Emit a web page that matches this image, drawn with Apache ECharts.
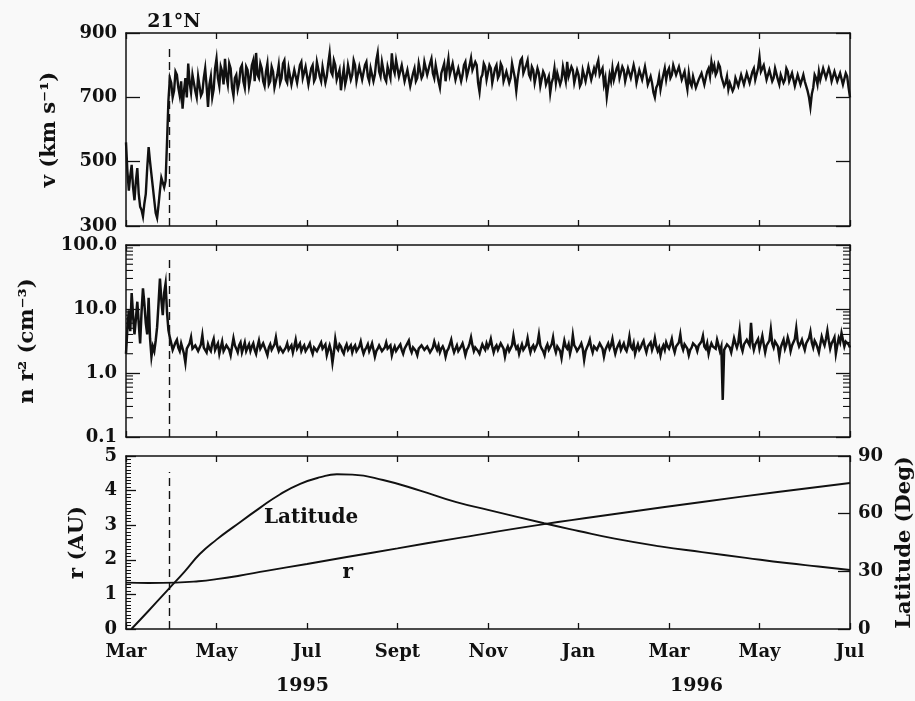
<!DOCTYPE html>
<html><head><meta charset="utf-8">
<script src="https://cdn.jsdelivr.net/npm/echarts@6/dist/echarts.min.js"></script>
<style>html,body{margin:0;padding:0;background:#f9f9f9}#c{width:915px;height:701px}</style>
</head><body><div id="c"></div><script>
// x axis: months since 1 March 1995
const monthTickLabels = ['Mar','May','Jul','Sept','Nov','Jan','Mar','May','Jul'];
const yearLabels = ['1995','1996'];
const sampleStepMonths = 1/32;

// solar wind speed v (km/s), one sample every 1/32 month
const speed = [
 560,470,410,455,490,420,380,440,480,400,360,350,330,370,400,480,545,500,460,420,380,340,325,365,410,450,445,420,440,560,690,760,
 745,700,720,780,770,730,705,750,665,720,760,700,805,745,715,770,775,720,700,765,760,705,715,760,790,735,670,740,765,700,725,790,
 820,760,735,795,780,740,820,765,740,805,790,730,705,760,770,725,745,790,800,750,730,795,785,735,760,800,815,750,838,770,760,805,
 790,750,735,780,805,740,750,795,780,730,725,770,800,745,760,805,815,755,745,790,790,740,735,785,785,745,750,800,810,760,765,795,
 795,740,745,790,800,750,760,810,815,765,750,795,790,745,765,805,837,780,770,815,800,755,750,785,722,760,790,740,760,800,805,755,
 770,815,800,750,745,795,790,755,760,800,810,765,750,790,795,750,770,815,838,780,765,810,805,760,750,795,790,760,837,790,775,815,
 810,765,760,800,795,750,745,785,780,735,740,775,790,750,760,805,800,760,770,810,815,770,775,805,820,775,760,800,795,750,730,775,
 780,805,750,790,820,770,765,805,800,755,755,790,790,750,770,800,810,765,760,800,822,785,780,810,800,745,717,760,770,805,795,755,
 760,800,790,745,750,790,800,760,770,805,795,750,745,780,785,745,760,805,800,760,720,760,790,815,822,775,770,800,815,770,760,795,
 785,745,750,790,775,735,740,780,770,740,735,765,713,745,760,790,745,775,780,740,755,795,790,750,810,765,760,795,785,745,750,785,
 770,735,745,785,780,750,755,795,790,755,760,790,775,800,815,770,765,790,740,760,701,735,770,750,790,755,750,790,800,760,760,795,
 785,750,755,790,795,760,765,800,780,745,750,785,790,755,760,795,770,740,735,765,745,715,700,730,740,765,725,750,770,790,755,780,
 790,760,770,800,800,770,765,795,790,755,760,780,750,725,775,745,735,765,760,730,730,755,750,775,770,740,745,780,790,765,810,785,
 800,770,780,805,795,765,760,735,745,765,725,745,750,720,730,760,760,735,740,770,765,740,745,775,770,745,750,780,790,755,760,790,
 825,780,775,800,795,755,750,785,785,750,760,790,790,755,740,770,775,745,755,790,780,750,745,775,770,735,740,770,765,740,745,770,
 750,735,720,700,670,710,730,770,760,740,780,755,750,790,790,760,765,790,775,750,755,780,785,750,750,775,770,740,745,775,765,730,
 700
];

// scaled density n r^2 (cm^-3), same sampling
const densityR2 = [
 2.0,5.0,9.5,4.5,17.8,8.0,4.0,7.0,13,6.0,2.9,9.0,21,12,6.0,4.0,15,3.5,1.8,2.6,2.2,3.2,5.2,12,30,14,8.0,18,25,9.0,4.7,3.6,
 2.9,2.3,2.4,3.0,3.3,2.5,2.2,2.9,2.7,2.0,1.45,2.4,2.5,2.9,3.6,2.4,2.3,2.7,2.9,2.2,2.1,2.8,3.9,2.5,2.4,2.1,2.8,2.4,2.2,2.9,3.4,2.3,
 2.6,2.9,2.0,2.5,3.1,2.2,2.3,2.7,2.8,2.3,1.9,2.6,3.5,2.7,2.4,2.1,2.7,3.0,2.1,2.5,3.0,2.2,2.5,2.8,2.2,2.6,2.9,2.3,2.0,2.6,3.2,2.4,
 2.4,2.9,2.7,2.2,1.9,2.5,2.8,2.3,2.3,2.8,3.6,2.6,2.2,2.5,2.6,2.1,2.0,2.5,2.9,2.3,2.4,2.7,2.1,2.6,3.3,2.4,2.5,2.9,2.2,2.5,2.7,2.2,
 2.3,2.6,2.9,2.3,2.0,2.5,2.6,2.2,2.2,2.7,3.0,2.4,2.4,2.8,1.9,2.3,2.7,2.2,1.45,2.1,3.4,2.5,2.3,2.8,2.6,2.2,2.0,2.5,2.8,2.3,2.4,2.7,
 2.1,2.5,2.7,2.2,2.3,2.6,3.1,2.4,2.0,2.3,2.5,2.8,2.2,2.5,2.9,2.3,1.8,2.2,2.4,2.7,2.6,2.2,2.1,2.5,3.0,2.4,2.3,2.7,1.9,2.3,2.6,2.2,
 2.2,2.6,2.8,2.3,2.0,2.4,2.5,2.9,3.2,2.4,2.1,2.5,2.6,2.2,1.9,2.4,2.4,2.7,2.9,2.3,2.2,2.6,2.5,2.1,2.0,2.5,3.1,2.6,2.3,2.7,2.1,2.4,
 2.6,2.3,1.8,2.2,2.4,2.8,3.3,2.5,2.1,2.4,2.7,2.2,2.2,2.6,2.9,2.4,1.9,2.3,2.5,2.9,3.6,2.7,2.2,2.5,2.6,2.2,2.0,2.4,2.8,2.5,2.3,2.9,
 2.5,2.8,3.4,2.6,2.1,2.5,2.7,2.3,2.3,2.9,3.0,2.4,1.8,2.3,2.6,2.2,2.2,2.7,3.8,2.8,2.4,2.6,2.0,2.4,2.8,2.3,2.3,2.7,3.5,2.6,2.1,2.5,
 2.7,2.3,2.2,2.9,4.0,2.7,2.4,2.2,1.9,2.5,2.8,2.3,2.3,2.8,3.6,2.5,2.1,2.6,2.6,2.2,1.7,2.4,3.2,2.6,2.4,2.8,2.0,2.5,3.9,2.7,2.5,2.2,
 2.2,2.6,2.9,2.4,1.6,2.2,2.5,2.8,3.3,2.5,2.1,2.6,2.7,2.3,2.3,2.9,3.1,2.4,1.8,2.3,2.6,2.9,2.4,2.7,3.4,2.5,2.0,2.4,2.7,3.0,2.3,2.6,
 2.9,2.4,2.2,2.7,3.7,2.6,2.4,2.9,2.0,2.4,2.8,2.3,2.5,2.9,3.2,2.5,2.1,2.6,2.6,3.0,2.3,2.7,3.5,2.6,2.2,2.5,1.9,2.4,2.7,2.3,3.0,2.6,
 2.4,2.8,3.4,2.5,2.1,2.6,2.6,3.0,4.0,2.7,2.3,2.8,2.8,2.4,1.9,2.3,2.5,2.9,3.1,2.6,2.2,2.7,2.7,3.1,3.8,2.6,2.4,2.9,2.0,2.5,2.9,2.6,
 2.6,2.4,3.3,2.7,2.2,2.6,0.38,2.3,2.4,2.8,2.9,2.5,2.1,2.7,3.5,2.9,2.5,3.0,4.6,2.6,2.2,2.8,2.8,3.3,3.2,2.7,6.1,3.0,2.3,2.8,2.9,3.4,
 2.4,3.0,3.8,2.8,2.1,2.7,2.7,3.2,4.8,2.9,2.5,3.1,3.1,2.6,1.8,2.5,2.9,3.3,2.4,2.8,3.6,3.0,2.2,2.7,2.8,3.4,5.0,3.1,2.6,2.9,3.3,2.7,
 2.3,2.9,3.0,3.5,4.4,3.0,2.5,3.2,2.9,2.5,2.1,2.8,3.7,3.1,2.7,3.4,4.6,3.2,2.4,2.9,3.2,3.6,2.0,2.7,3.5,3.0,4.2,3.3,2.6,3.1,3.1,2.8,
 2.5
];

// heliographic latitude (deg)
const latitudeMonths = [0.12,0.5,0.95,1.3,1.63,2.0,2.37,2.96,3.4,3.85,4.3,4.66,5.0,5.68,6.5,7.3,8.0,9.24,10.0,10.8,11.8,12.73,13.7,14.6,15.3,16];
const latitudeDeg    = [0,9.5,21,30,39,46.5,53,63,70,75.5,79,80.5,80.3,77.5,72,66,62,55,51,47,43,40,37,34.3,32.5,30.7];
// heliocentric distance r (AU)
const radiusMonths = [0,0.5,1.1,1.6,2.0,2.5,3.1,4.0,4.88,6.0,7.3,9.24,11.0,12.73,14.4,16];
const radiusAU     = [1.34,1.33,1.34,1.38,1.44,1.54,1.68,1.88,2.08,2.33,2.62,3.03,3.36,3.67,3.96,4.22];

const crossingMonth = 0.95;
const crossingLabel = '21°N';
const logMinorTicks = [0.2,0.3,0.4,0.5,0.6,0.7,0.8,0.9,2,3,4,5,6,7,8,9,20,30,40,50,60,70,80,90];

const F = 'DejaVu Serif';
const INK = '#111';
const chart = echarts.init(document.getElementById('c'));
const lineAxis = {onZero:false, lineStyle:{color:INK,width:1.5}};
const grids = [
  {left:126, right:65, top:33, height:193, outerBoundsMode:'none'},
  {left:126, right:65, top:245, height:192, outerBoundsMode:'none'},
  {left:126, right:65, top:456, height:173, outerBoundsMode:'none'}
];
function xAx(g, pos, labels){
  return {type:'value', gridIndex:g, position:pos, min:0, max:16, interval:2,
    axisLine:lineAxis, splitLine:{show:false},
    axisTick:{show:true, inside:true, length:6, lineStyle:{color:INK,width:1.3}},
    axisLabel:{show:labels, margin:14, color:INK, fontFamily:F, fontSize:18, fontWeight:'bold',
      formatter:v=>monthTickLabels[Math.round(v/2)]}};
}
function yTick(len){return {show:true, inside:true, length:len, lineStyle:{color:INK,width:1.3}};}
const lbl = {color:INK, fontFamily:F, fontSize:18, fontWeight:'bold'};
const nameStyle = {color:INK, fontFamily:F, fontSize:21, fontWeight:'bold'};

const dashStyle = {type:[8,5], color:INK, width:1.4};

const option = {
  backgroundColor:'#f9f9f9',
  animation:false,
  grid:grids,
  xAxis:[xAx(0,'bottom',false), xAx(0,'top',false), xAx(1,'bottom',false), xAx(1,'top',false), xAx(2,'bottom',true), xAx(2,'top',false)],
  yAxis:[
    {type:'value', gridIndex:0, position:'left', min:300, max:900, interval:200, axisLine:lineAxis, splitLine:{show:false},
     axisTick:yTick(14), axisLabel:Object.assign({margin:9},lbl),
     name:'v (km s⁻¹)', nameLocation:'middle', nameGap:66, nameTextStyle:nameStyle},
    {type:'value', gridIndex:0, position:'right', min:300, max:900, interval:200, axisLine:lineAxis, splitLine:{show:false},
     axisTick:yTick(14), axisLabel:{show:false}},
    {type:'log', gridIndex:1, position:'left', min:0.1, max:100, logBase:10, axisLine:lineAxis, splitLine:{show:false},
     axisTick:yTick(14), axisLabel:Object.assign({margin:9, formatter:v=>Number(v).toFixed(1)},lbl),
     name:'n r² (cm⁻³)', nameLocation:'middle', nameGap:88, nameTextStyle:nameStyle},
    {type:'log', gridIndex:1, position:'right', min:0.1, max:100, logBase:10, axisLine:lineAxis, splitLine:{show:false},
     axisTick:yTick(14), axisLabel:{show:false}},
    {type:'value', gridIndex:2, position:'left', min:0, max:5, interval:1, axisLine:lineAxis, splitLine:{show:false},
     axisTick:yTick(10), minorTick:{show:true, splitNumber:10, length:5, lineStyle:{color:INK,width:1}},
     axisLabel:Object.assign({margin:9},lbl),
     name:'r (AU)', nameLocation:'middle', nameGap:38, nameTextStyle:nameStyle},
    {type:'value', gridIndex:2, position:'right', min:0, max:90, interval:30, axisLine:lineAxis, splitLine:{show:false},
     axisTick:yTick(12), axisLabel:Object.assign({margin:8},lbl),
     name:'Latitude (Deg)', nameLocation:'middle', nameGap:44, nameRotate:90, nameTextStyle:nameStyle}
  ],
  series:[
    {type:'line', xAxisIndex:0, yAxisIndex:0, showSymbol:false, silent:true,
     lineStyle:{color:INK, width:2.4, join:'miter'},
     data:speed.map((v,i)=>[i*sampleStepMonths, v]),
     markLine:{silent:true, symbol:'none', lineStyle:dashStyle,
       label:{show:true, position:'end', distance:14, formatter:crossingLabel, color:INK, fontFamily:F, fontSize:19, fontWeight:'bold', padding:[0,0,0,10]},
       data:[[{coord:[crossingMonth,300]},{coord:[crossingMonth,862]}]]}},
    {type:'line', xAxisIndex:2, yAxisIndex:2, showSymbol:false, silent:true,
     lineStyle:{color:INK, width:2.5, join:'miter'},
     data:densityR2.map((v,i)=>[i*sampleStepMonths, v]),
     markLine:{silent:true, symbol:'none', lineStyle:dashStyle, label:{show:false},
       data:[[{coord:[crossingMonth,0.1]},{coord:[crossingMonth,70]}]]}},
    {type:'custom', xAxisIndex:2, yAxisIndex:2, silent:true, clip:false,
     data:logMinorTicks.map(v=>[0,v]), encode:{x:0,y:1},
     renderItem:(params, api)=>{
       const v = api.value(1);
       const l = api.coord([0,v]), r = api.coord([16,v]);
       return {type:'group', children:[
         {type:'line', shape:{x1:l[0],y1:l[1],x2:l[0]+7,y2:l[1]}, style:{stroke:INK, lineWidth:1.1}},
         {type:'line', shape:{x1:r[0]-7,y1:r[1],x2:r[0],y2:r[1]}, style:{stroke:INK, lineWidth:1.1}}
       ]};
     }},
    {type:'line', xAxisIndex:4, yAxisIndex:4, showSymbol:false, silent:true, smooth:0.5,
     lineStyle:{color:INK, width:1.9},
     data:radiusMonths.map((m,i)=>[m, radiusAU[i]]),
     markLine:{silent:true, symbol:'none', lineStyle:dashStyle, label:{show:false},
       data:[[{coord:[crossingMonth,0]},{coord:[crossingMonth,4.54]}]]},
     markPoint:{silent:true, symbol:'circle', symbolSize:0,
       label:{show:true, formatter:'r', color:INK, fontFamily:F, fontSize:20, fontWeight:'bold', position:'inside'},
       data:[{coord:[4.9,1.62]}]}},
    {type:'line', xAxisIndex:4, yAxisIndex:5, showSymbol:false, silent:true, smooth:0.5,
     lineStyle:{color:INK, width:1.9},
     data:latitudeMonths.map((m,i)=>[m, latitudeDeg[i]]),
     markPoint:{silent:true, symbol:'circle', symbolSize:0,
       label:{show:true, formatter:'Latitude', color:INK, fontFamily:F, fontSize:20, fontWeight:'bold', position:'inside'},
       data:[{coord:[4.09,57.7]}]}}
  ],
  graphic:[
    {type:'text', left:276, top:677, style:{text:yearLabels[0], fill:INK, font:'bold 19px "DejaVu Serif"'}},
    {type:'text', left:670, top:677, style:{text:yearLabels[1], fill:INK, font:'bold 19px "DejaVu Serif"'}}
  ]
};
chart.setOption(option);
</script></body></html>
